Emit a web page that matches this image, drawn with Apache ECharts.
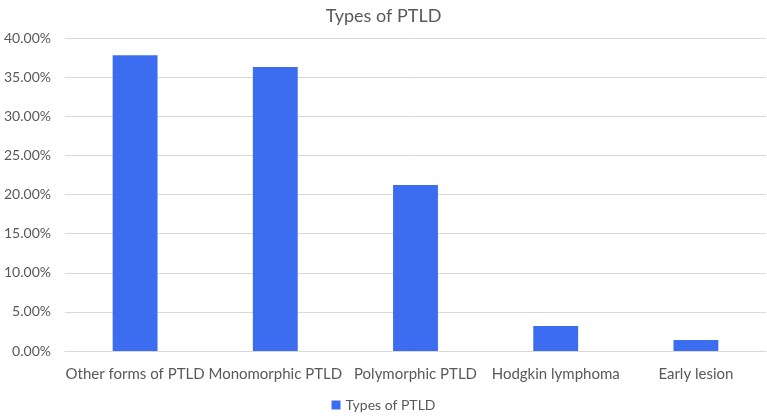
<!DOCTYPE html>
<html><head><meta charset="utf-8">
<script src="https://cdn.jsdelivr.net/npm/echarts@6/dist/echarts.min.js"></script>
<style>html,body{margin:0;padding:0;background:#fff}#c{width:767px;height:420px}</style>
</head><body><div id="c"></div>
<script>
const categories = ["Other forms of PTLD","Monomorphic PTLD","Polymorphic PTLD","Hodgkin lymphoma","Early lesion"];
const values = [37.8, 36.3, 21.2, 3.2, 1.4];
const seriesName = "Types of PTLD";
const chart = echarts.init(document.getElementById('c'));
const font = "Lato";
chart.setOption({
  animation:false,
  title:{text:"Types of PTLD",left:'center',top:2,textStyle:{fontFamily:font,fontSize:18,fontWeight:'normal',color:'#595959'}},
  grid:{left:65,right:1,top:38,bottom:69},
  legend:{bottom:3,left:'center',itemWidth:9,itemHeight:9,itemGap:4,icon:'rect',textStyle:{fontFamily:font,fontSize:14,color:'#595959'},data:[seriesName]},
  xAxis:{type:'category',data:categories,axisTick:{show:false},axisLine:{lineStyle:{color:'#d9d9d9'}},
    axisLabel:{fontFamily:font,fontSize:15,color:'#595959',margin:16,interval:0}},
  yAxis:{type:'value',min:0,max:40,interval:5,axisLine:{show:false},axisTick:{show:false},
    splitLine:{lineStyle:{color:'#d9d9d9'}},
    axisLabel:{fontFamily:font,fontSize:14,color:'#595959',margin:14,formatter:v=>v.toFixed(2)+'%'}},
  series:[{name:seriesName,type:'bar',data:values,barWidth:'32%',itemStyle:{color:'#3C6CF0'}}]
});
</script></body></html>
